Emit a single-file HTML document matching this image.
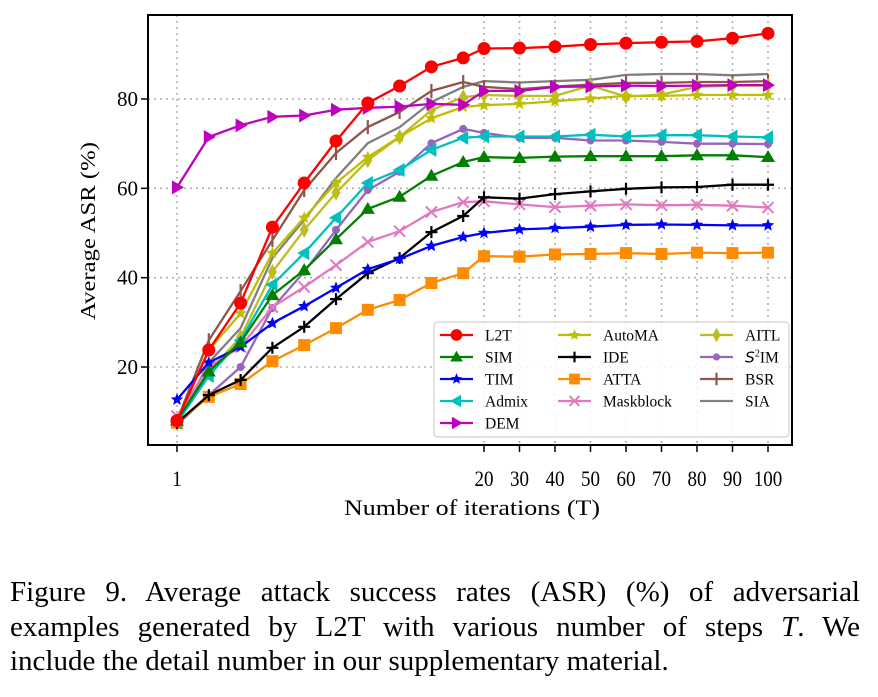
<!DOCTYPE html>
<html><head><meta charset="utf-8"><style>
body{margin:0;background:#fff;width:878px;height:697px;overflow:hidden;font-family:"Liberation Serif",serif}
.cap{position:absolute;left:10px;width:850px;font-size:29px;line-height:34.5px;color:#000}
.l{text-align:justify;text-align-last:justify;white-space:nowrap}
</style></head><body>
<svg id="chart" width="878" height="560" style="position:absolute;left:0;top:0" font-family="Liberation Serif, serif"></svg>
<div class="cap" style="top:575px">
<div class="l">Figure 9. Average attack success rates (ASR) (%) of adversarial</div>
<div class="l">examples generated by L2T with various number of steps <i>T</i>. We</div>
<div>include the detail number in our supplementary material.</div>
</div>
<script>
const iterations=[1,2,3,4,5,6,7,8,9,10,20,30,40,50,60,70,80,90,100];
const xTickLabels=[1,20,30,40,50,60,70,80,90,100];
const yTickLabels=[20,40,60,80];
const seriesNames=["L2T","SIM","TIM","Admix","DEM","AutoMA","IDE","ATTA","Maskblock","AITL","S2IM","BSR","SIA"];
const L2T=[8,23.8,34.3,51.3,61.2,70.6,79.1,82.9,87.2,89.2,91.3,91.4,91.7,92.2,92.5,92.7,92.9,93.6,94.7];
const SIM=[8,19,25.5,36.1,41.7,48.6,55.4,58.1,62.8,65.9,67,66.8,67.1,67.2,67.2,67.2,67.4,67.4,67];
const TIM=[12.7,21,24.5,29.8,33.6,37.7,41.9,44.2,47.1,49.1,50,50.8,51.1,51.4,51.8,51.9,51.8,51.7,51.7];
const Admix=[7.5,18,26,38.4,45.5,53.4,61.2,64.1,68.6,71.3,71.6,71.6,71.6,72,71.6,71.9,71.9,71.6,71.4];
const DEM=[60.2,71.5,74.1,76,76.3,77.6,78,78.3,78.9,78.7,81.8,81.8,82.7,82.8,83,82.9,83,83.1,83.1];
const AutoMA=[8,23.8,32,45.5,53.4,61.2,67,71.5,75.7,78.2,78.6,78.9,79.5,80.1,80.7,80.7,80.9,80.9,80.9];
const IDE=[7.5,13.7,17.1,24.3,29,35.2,41,44.4,50.2,53.8,58,57.7,58.7,59.3,59.9,60.2,60.3,60.8,60.8];
const ATTA=[7.5,13.3,16.2,21.3,24.9,28.7,32.8,35,38.8,41,44.8,44.7,45.2,45.3,45.5,45.3,45.6,45.5,45.6];
const Maskblock=[9,20,24.5,33.4,37.9,42.8,48,50.4,54.7,56.9,57.1,56.4,55.8,56.1,56.4,56.2,56.3,56.1,55.7];
const AITL=[7.5,19,26.7,41.3,50.7,59,66.3,71.5,77.5,80.4,80.9,80.7,80.7,83,80.5,81,82.7,83,83];
const S2IM=[7,13.7,20,33.2,41.3,50.7,59.6,63.7,70.1,73.3,72.4,71.3,71.3,70.7,70.7,70.4,70,70,69.9];
const BSR=[8,26,37,48.4,59.6,67.9,73.7,77.1,81.8,83.8,82.7,82.2,82.8,83.2,83.6,83.6,83.8,83.8,84];
const SIA=[7,21,28.7,44.4,52.9,62.3,70.1,73.7,79.3,82.7,84,83.7,84,84.3,85.4,85.6,85.6,85.3,85.6];

const NS="http://www.w3.org/2000/svg";
const svg=document.getElementById('chart');
const L=148,R=792,T=15,B=445;
function xs(it){ if(it<=10) return 177+(it-1)*31.8; return 484+(it-20)/10*35.5; }
function ys(v){ return 367-(v-20)*4.467; }
function mk(tag,attrs,parent){const e=document.createElementNS(NS,tag);for(const k in attrs)e.setAttribute(k,attrs[k]);(parent||svg).appendChild(e);return e;}

xTickLabels.forEach(t=>{
  const g=mk('line',{x1:xs(t),x2:xs(t),y1:T,y2:B,stroke:'#b0b0b0','stroke-width':1.6,'stroke-dasharray':'2,4'});
  
  
});
yTickLabels.forEach(t=>{
  const g=mk('line',{x1:L,x2:R,y1:ys(t),y2:ys(t),stroke:'#b0b0b0','stroke-width':1.6,'stroke-dasharray':'2,4'});
  
  
});

const styles={
 L2T:{c:'#ff0000',m:'circle'},SIM:{c:'#008000',m:'tri-up'},TIM:{c:'#0000ff',m:'star'},
 Admix:{c:'#00bfbf',m:'tri-left'},DEM:{c:'#bf00bf',m:'tri-right'},AutoMA:{c:'#bfbf00',m:'star'},
 IDE:{c:'#000000',m:'plus'},ATTA:{c:'#ff8c00',m:'square'},Maskblock:{c:'#e377c2',m:'x'},
 AITL:{c:'#bcbd22',m:'diamond'},S2IM:{c:'#9467bd',m:'dot'},BSR:{c:'#8c564b',m:'vbar'},SIA:{c:'#7f7f7f',m:'none'}
};
const data={L2T,SIM,TIM,Admix,DEM,AutoMA,IDE,ATTA,Maskblock,AITL,S2IM,BSR,SIA};

function marker(type,x,y,c,parent,s){
  s=s||1;
  let e=null;
  const star=(r)=>{let p=[];for(let i=0;i<10;i++){const a=-Math.PI/2+i*Math.PI/5;const rr=i%2?r*0.45:r;p.push((x+rr*Math.cos(a)).toFixed(1)+','+(y+rr*Math.sin(a)).toFixed(1));}return p.join(' ');};
  switch(type){
   case 'circle': e=mk('circle',{cx:x,cy:y,r:6.5*s,fill:c},parent);break;
   case 'dot': e=mk('circle',{cx:x,cy:y,r:4*s,fill:c},parent);break;
   case 'square': e=mk('rect',{x:x-6*s,y:y-6*s,width:12*s,height:12*s,fill:c},parent);break;
   case 'tri-up': e=mk('polygon',{points:`${x},${y-7*s} ${x-7*s},${y+5*s} ${x+7*s},${y+5*s}`,fill:c},parent);break;
   case 'tri-left': e=mk('polygon',{points:`${x-7*s},${y} ${x+5*s},${y-7*s} ${x+5*s},${y+7*s}`,fill:c},parent);break;
   case 'tri-right': e=mk('polygon',{points:`${x+7*s},${y} ${x-5*s},${y-7*s} ${x-5*s},${y+7*s}`,fill:c},parent);break;
   case 'diamond': e=mk('polygon',{points:`${x},${y-8*s} ${x+4.5*s},${y} ${x},${y+8*s} ${x-4.5*s},${y}`,fill:c},parent);break;
   case 'star': e=mk('polygon',{points:star(6.5*s),fill:c},parent);break;
   case 'plus': e=mk('path',{d:`M${x-6*s},${y}H${x+6*s}M${x},${y-6*s}V${y+6*s}`,stroke:c,'stroke-width':2.2},parent);break;
   case 'vbar': e=mk('path',{d:`M${x},${y-7*s}V${y+7*s}`,stroke:c,'stroke-width':2.2},parent);break;
   case 'x': e=mk('path',{d:`M${x-5.5*s},${y-5.5*s}L${x+5.5*s},${y+5.5*s}M${x-5.5*s},${y+5.5*s}L${x+5.5*s},${y-5.5*s}`,stroke:c,'stroke-width':2},parent);break;
  }
  return e;
}

seriesNames.slice().reverse().forEach(name=>{
  const st=styles[name], vals=data[name];
  const g=mk('g',{});
  
  
  const pts=vals.map((v,i)=>xs(iterations[i]).toFixed(1)+','+ys(v).toFixed(1)).join(' ');
  const pl=mk('polyline',{points:pts,fill:'none',stroke:st.c,'stroke-width':2.3,'stroke-linejoin':'round'},g);
  
  
  vals.forEach((v,i)=>{
    const m=marker(st.m,xs(iterations[i]),ys(v),st.c,g);
    if(m){
      
      
    }
  });
});

const fr=mk('rect',{x:L,y:T,width:R-L,height:B-T,fill:'none',stroke:'#000','stroke-width':2});



xTickLabels.forEach(t=>{
  const tk=mk('line',{x1:xs(t),x2:xs(t),y1:B,y2:B+7,stroke:'#000','stroke-width':1.5});
  
  
  const tx=mk('text',{x:xs(t),y:486,'text-anchor':'middle','font-size':22,textLength:String(t).length*9.5,lengthAdjust:'spacingAndGlyphs'});
  tx.textContent=t;
  
  
});
yTickLabels.forEach(t=>{
  const tk=mk('line',{x1:L-7,x2:L,y1:ys(t),y2:ys(t),stroke:'#000','stroke-width':1.5});
  
  
  const tx=mk('text',{x:L-10,y:ys(t)+7,'text-anchor':'end','font-size':21});
  tx.textContent=t;
  
  
});
const xt=mk('text',{x:472,y:515,'text-anchor':'middle','font-size':22,textLength:256,lengthAdjust:'spacingAndGlyphs'});
xt.textContent='Number of iterations (T)';


const yt=mk('text',{x:0,y:0,'text-anchor':'middle','font-size':21,transform:'translate(95,231) rotate(-90)',textLength:178,lengthAdjust:'spacingAndGlyphs'});
yt.textContent='Average ASR (%)';



const lg=mk('g',{});


mk('rect',{x:434,y:322,width:355,height:115,rx:4,fill:'#fff','fill-opacity':0.85,stroke:'#d0d0d0','stroke-width':1.2},lg);
const colX=[440,558,700], rowY=[335,357,379,401,423];
seriesNames.forEach((name,i)=>{
  const col=i<5?0:(i<9?1:2), row=i<5?i:(i<9?i-5:i-9);
  const x=colX[col], y=rowY[row], st=styles[name];
  const e=mk('g',{},lg);
  
  
  mk('line',{x1:x,x2:x+33,y1:y,y2:y,stroke:st.c,'stroke-width':2.3},e);
  marker(st.m,x+16.5,y,st.c,e,0.9);
  const t=mk('text',{x:x+45,y:y+5.5,'font-size':15.5},e);
  if(name==='S2IM'){t.innerHTML='<tspan font-style="italic" font-family="DejaVu Sans, sans-serif">S</tspan><tspan font-size="10" dy="-6">2</tspan><tspan dy="6">IM</tspan>';}
  else t.textContent=name;
});
</script>
</body></html>
